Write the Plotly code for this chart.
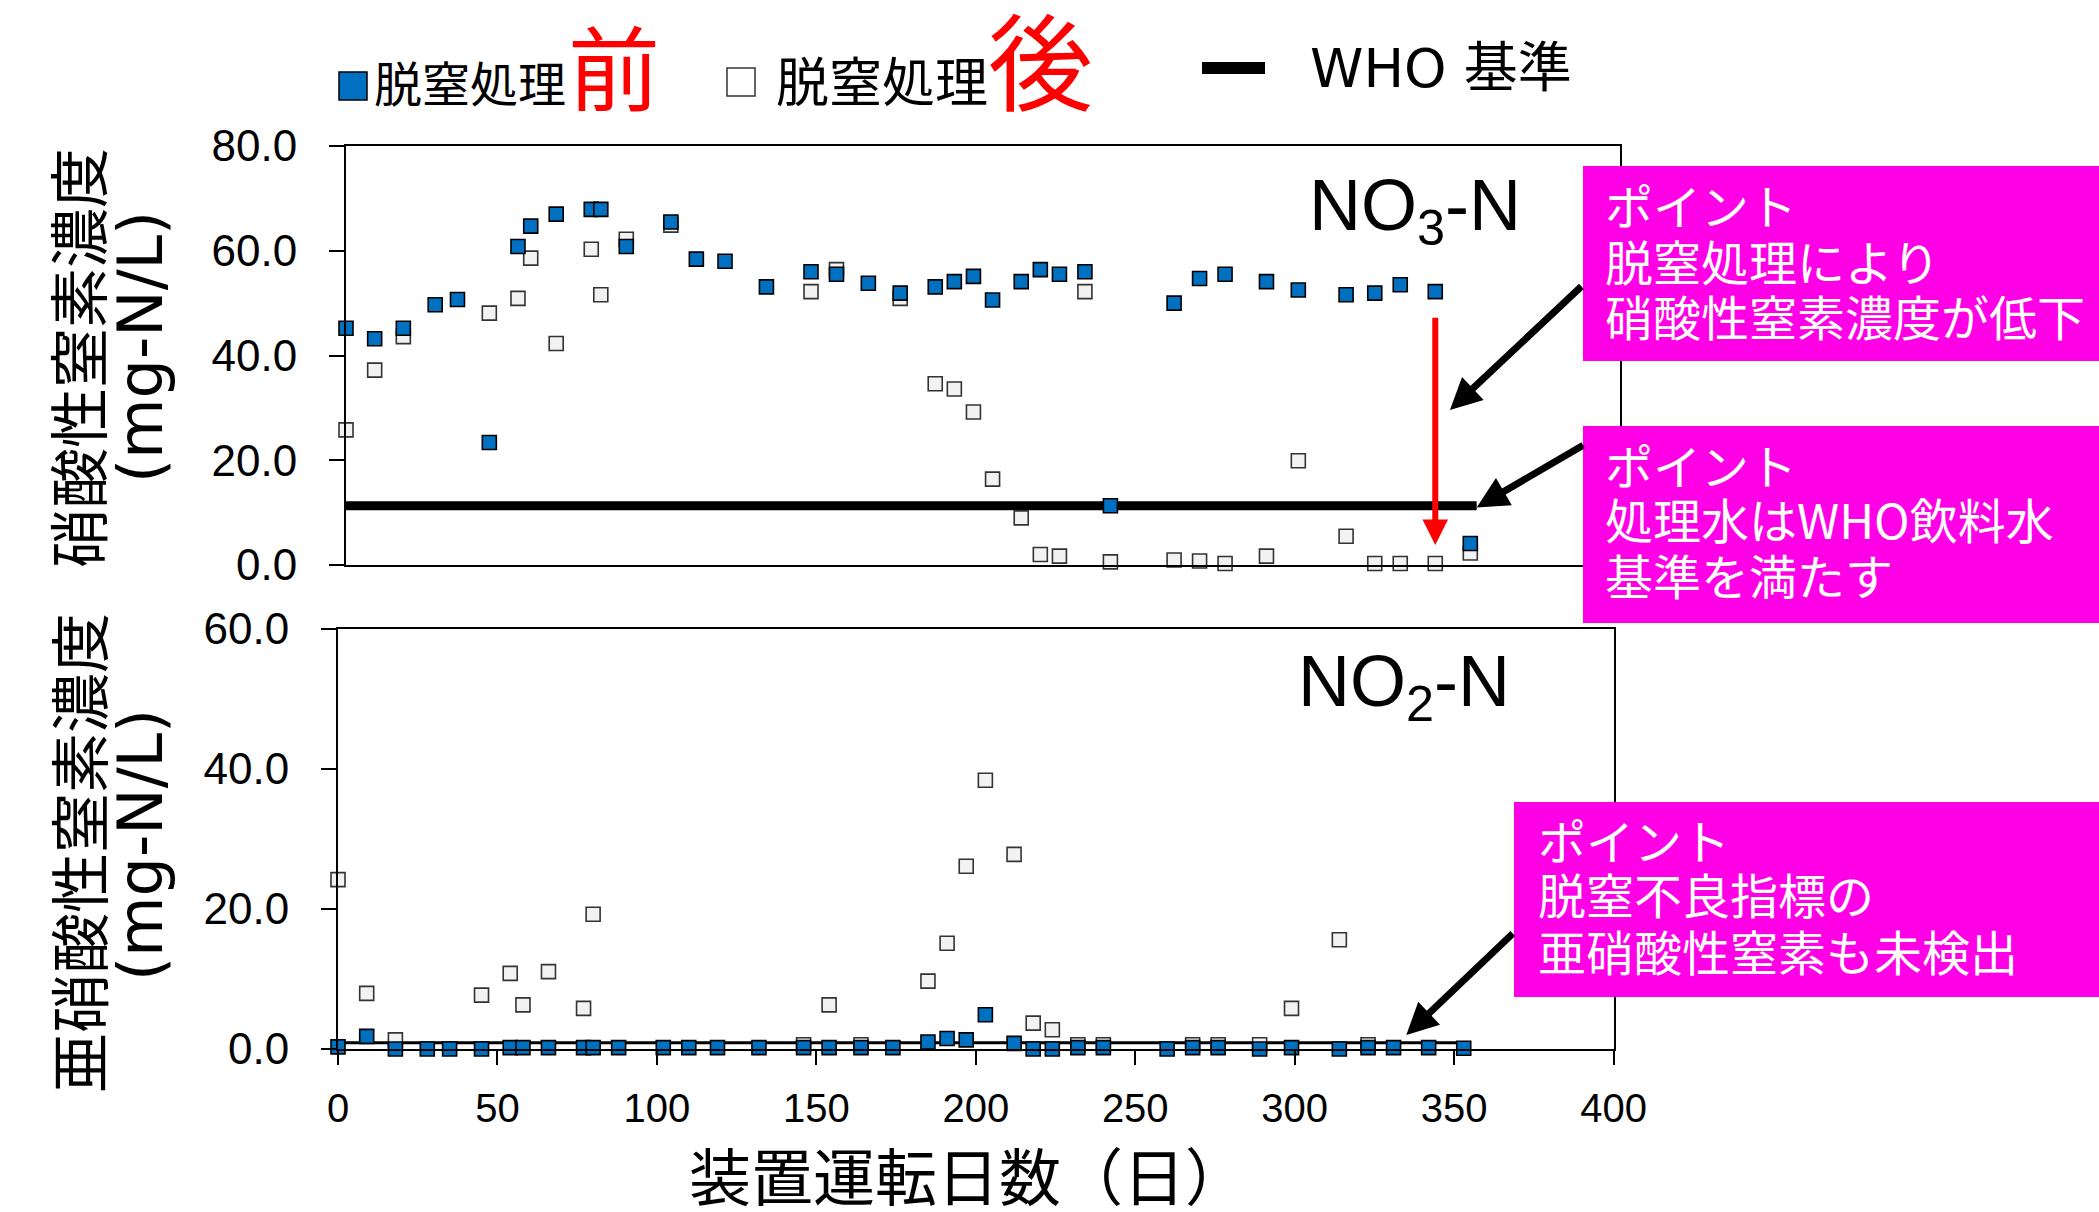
import plotly.graph_objects as go

W, H = 2099, 1212

# ---- data -------------------------------------------------------------
days = [0, 9, 18, 28, 35, 45, 54, 58, 66, 77, 80, 88, 102, 110, 119, 132,
        146, 154, 164, 174, 185, 191, 197, 203, 212, 218, 224, 232, 240,
        260, 268, 276, 289, 299, 314, 323, 331, 342, 353]

# nitrate nitrogen (mg-N/L)
no3_before = [45.2, 43.2, 45.2, 49.7, 50.7, 23.4, 60.8, 64.7, 67.0, 67.9,
              67.9, 60.8, 65.5, 58.4, 58.0, 53.1, 56.0, 55.5, 53.8, 51.9,
              53.1, 54.1, 55.1, 50.6, 54.1, 56.4, 55.5, 56.0, 11.3, 50.0,
              54.7, 55.5, 54.1, 52.5, 51.6, 51.9, 53.5, 52.2, 4.1]
no3_after = [25.8, 37.2, 43.6, None, None, 48.1, 50.9, 58.6, 42.3, 60.3,
             51.6, 62.2, 64.9, None, None, None, 52.2, 56.4, None, 50.9,
             34.6, 33.6, 29.2, 16.4, 9.0, 2.0, 1.7, 52.2, 0.6, 0.95,
             0.76, 0.3, 1.7, 19.9, 5.5, 0.3, 0.3, 0.3, 2.3]

# nitrite nitrogen (mg-N/L)
no2_before = [0.3, 1.8, 0.0, 0.0, 0.0, 0.0, 0.2, 0.2, 0.2, 0.2,
              0.2, 0.2, 0.2, 0.2, 0.2, 0.2, 0.2, 0.2, 0.2, 0.2,
              1.0, 1.5, 1.3, 4.9, 0.8, 0.0, 0.0, 0.2, 0.2, 0.0,
              0.2, 0.2, 0.0, 0.2, 0.0, 0.2, 0.2, 0.2, 0.1]
no2_after = [24.2, 7.95, 1.3, None, None, 7.7, 10.8, 6.3, 11.05, 5.8,
             19.25, None, None, None, None, None, 0.6, 6.3, 0.6, None,
             9.7, 15.1, 26.1, 38.4, 27.8, 3.7, 2.76, 0.6, 0.6, None,
             0.6, 0.6, 0.6, 5.8, 15.6, 0.6, None, None, None]

# WHO drinking-water guideline values (mg-N/L)
who_days = [0, 355]
who_no3 = [11.3, 11.3]
who_no2 = [0.9, 0.9]

x_ticks = [0, 50, 100, 150, 200, 250, 300, 350, 400]
no3_ticks = [0, 20, 40, 60, 80]
no2_ticks = [0, 20, 40, 60]

label_before = "脱窒処理"
label_before_em = "前"
label_after = "脱窒処理"
label_after_em = "後"
label_who = "WHO 基準"
no3_title = "硝酸性窒素濃度"
no2_title = "亜硝酸性窒素濃度"
unit_title = "(mg-N/L)"
x_title = "装置運転日数（日）"
notes = [
    ["ポイント", "脱窒処理により", "硝酸性窒素濃度が低下"],
    ["ポイント", "処理水はWHO飲料水", "基準を満たす"],
    ["ポイント", "脱窒不良指標の", "亜硝酸性窒素も未検出"],
]

# ---- styling ----------------------------------------------------------
BLUE = "#0070c0"
PALE = "#f2f2f2"
MAGENTA = "#ff00e6"
LATIN = "Liberation Sans, Arial, sans-serif"
WIDE = "DejaVu Sans, Noto Sans CJK JP, sans-serif"
JP = "Noto Sans CJK JP, sans-serif"


def px(x):
    return x / W


def py(y):
    return 1 - y / H


fig = go.Figure()


def add_panel(xa, ya, before, after, who, who_width):
    fig.add_trace(go.Scatter(
        x=who_days, y=who, mode="lines", xaxis=xa, yaxis=ya,
        line=dict(color="black", width=who_width),
        showlegend=False, hoverinfo="skip", cliponaxis=False))
    fig.add_trace(go.Scatter(
        x=days, y=after, mode="markers", xaxis=xa, yaxis=ya,
        marker=dict(symbol="square", size=14, color=PALE,
                    line=dict(color="#333333", width=1.6)),
        showlegend=False, cliponaxis=False))
    fig.add_trace(go.Scatter(
        x=days, y=before, mode="markers", xaxis=xa, yaxis=ya,
        marker=dict(symbol="square", size=14, color=BLUE,
                    line=dict(color="black", width=1.6)),
        showlegend=False, cliponaxis=False))


add_panel("x", "y", no3_before, no3_after, who_no3, 9)
add_panel("x2", "y2", no2_before, no2_after, who_no2, 3)

axis_common = dict(showline=True, linecolor="black", linewidth=2,
                   mirror=True, showgrid=False, zeroline=False)

fig.update_layout(
    width=W, height=H,
    margin=dict(l=0, r=0, t=0, b=0, autoexpand=False),
    paper_bgcolor="white", plot_bgcolor="white",
    showlegend=False,
    xaxis=dict(domain=[px(346), px(1620)], range=[0, 400], anchor="y",
               ticks="", showticklabels=False, **axis_common),
    yaxis=dict(domain=[py(565), py(146)], range=[0, 80], anchor="x",
               tickvals=no3_ticks, tickformat=".1f", ticks="outside",
               ticklen=15, tickwidth=1.5, tickcolor="black",
               ticklabelstandoff=23,
               tickfont=dict(family=LATIN, size=44, color="black"),
               **axis_common),
    xaxis2=dict(domain=[px(338), px(1613.6)], range=[0, 400], anchor="y2",
                tickvals=x_ticks, ticks="outside", ticklen=14,
                tickwidth=1.5, tickcolor="black", ticklabelstandoff=9,
                tickfont=dict(family=LATIN, size=40, color="black"),
                **axis_common),
    yaxis2=dict(domain=[py(1049), py(629)], range=[0, 60], anchor="x2",
                tickvals=no2_ticks, tickformat=".1f", ticks="outside",
                ticklen=15, tickwidth=1.5, tickcolor="black",
                ticklabelstandoff=23,
                tickfont=dict(family=LATIN, size=44, color="black"),
                **axis_common),
)

ann = []
shapes = []


def text(s, x, y, size, family, color="black", xanchor="left",
         yanchor="middle", angle=0):
    ann.append(dict(text=s, x=px(x), y=py(y), xref="paper", yref="paper",
                    xanchor=xanchor, yanchor=yanchor, showarrow=False,
                    textangle=angle,
                    font=dict(family=family, size=size, color=color)))


# legend row
shapes.append(dict(type="rect", xref="paper", yref="paper",
                   x0=px(339), x1=px(367), y0=py(100), y1=py(72),
                   fillcolor=BLUE, line=dict(color="black", width=1.5)))
text(label_before, 372, 118, 48, JP, yanchor="bottom")
text(label_before_em, 566, 132, 92, JP, color="#ff0000", yanchor="bottom")
shapes.append(dict(type="rect", xref="paper", yref="paper",
                   x0=px(727), x1=px(755), y0=py(96), y1=py(68),
                   fillcolor="white", line=dict(color="#333333", width=1.5)))
text(label_after, 774, 119, 53, JP, yanchor="bottom")
text(label_after_em, 986, 134, 105, JP, color="#ff0000", yanchor="bottom")
shapes.append(dict(type="line", xref="paper", yref="paper",
                   x0=px(1202), x1=px(1265), y0=py(68), y1=py(68),
                   line=dict(color="black", width=12)))
text(label_who, 1308, 68, 54, WIDE)

# y-axis titles (two rotated lines each)
text(no3_title, 76, 358, 60, JP, xanchor="center", angle=-90)
text(unit_title, 140, 347, 62, WIDE, xanchor="center", angle=-90)
text(no2_title, 76, 853, 60, JP, xanchor="center", angle=-90)
text(unit_title, 140, 845, 62, WIDE, xanchor="center", angle=-90)

# x-axis title
text(x_title, 968, 1174, 62, JP, xanchor="center")

# panel labels
text("NO<sub>3</sub>-N", 1307, 163, 72, LATIN, yanchor="top")
text("NO<sub>2</sub>-N", 1296, 639, 72, LATIN, yanchor="top")

# note boxes
boxes = [(1583, 166, 361, 1603, [204, 260, 315]),
         (1583, 426, 623, 1603, [464, 518, 574]),
         (1514, 802, 997, 1536, [839, 893, 950])]
for (bx, top, bottom, tx, ys), lines in zip(boxes, notes):
    shapes.append(dict(type="rect", xref="paper", yref="paper", layer="above",
                       x0=px(bx), x1=1.02, y0=py(bottom), y1=py(top),
                       fillcolor=MAGENTA, line=dict(width=0)))
    for line, ly in zip(lines, ys):
        text(line, tx, ly, 48, JP, color="white")

# callout arrows pointing into the panels
arrow = dict(text="", showarrow=True, arrowhead=2, arrowcolor="black",
             arrowwidth=7, arrowsize=0.9, standoff=0)
ann.append(dict(arrow, x=346.6, y=29.6, xref="x", yref="y", ax=133, ay=-125))
ann.append(dict(arrow, x=355, y=11.0, xref="x", yref="y", ax=108, ay=-63))
ann.append(dict(arrow, x=335, y=2.0, xref="x2", yref="y2", ax=108, ay=-103))

# red arrow: drop in nitrate concentration through treatment
ann.append(dict(text="", showarrow=True, arrowhead=2, arrowcolor="#ff0000",
                arrowwidth=6, arrowsize=0.85, standoff=0,
                x=342, y=3.8, xref="x", yref="y",
                ax=342, ay=47.5, axref="x", ayref="y"))

fig.update_layout(annotations=ann, shapes=shapes)

fig.write_html("out.html")
